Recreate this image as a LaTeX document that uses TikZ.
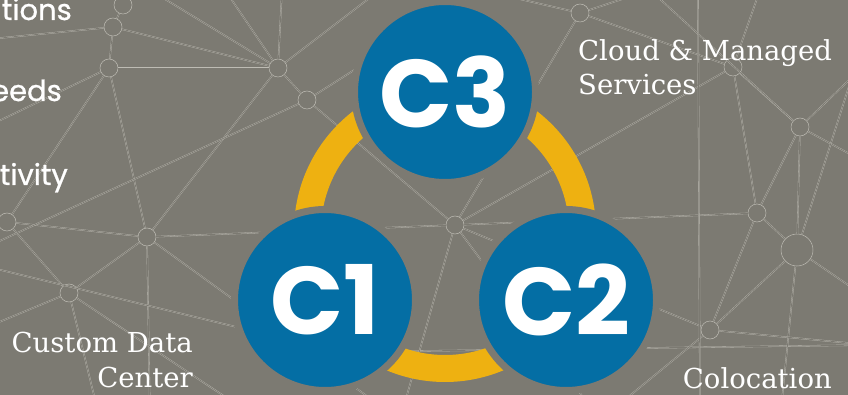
\documentclass[tikz,border=0pt]{standalone}
\usepackage{fontspec}
\newfontfamily\popfont{Poppins}
\newfontfamily\popmed{Poppins}[FakeBold=0.8]
\newfontfamily\slabfont{DejaVu Serif}
\definecolor{bgc}{RGB}{124,122,114}
\definecolor{netc}{RGB}{190,188,180}
\definecolor{bluec}{RGB}{4,110,164}
\definecolor{ringc}{RGB}{238,177,17}
\tikzset{
  net/.style={draw=netc, line width=0.3pt, double=bgc, double distance=0.8pt},
  hub/.style={circle, draw=netc, line width=0.5pt, fill=bgc, inner sep=0pt, minimum size=#1},
  hub/.default=18pt,
  cnode/.style={circle, fill=bluec, draw=bgc, line width=7pt, minimum size=181pt, inner sep=0pt,
    text=white, font=\popfont\bfseries\fontsize{96}{96}\selectfont},
  lefttxt/.style={inner sep=0pt, text=white, font=\popmed\fontsize{29}{32}\selectfont},
  slabtxt/.style={inner sep=0pt, text=white, font=\slabfont\fontsize{27.5}{34}\selectfont},
}
\begin{document}
\begin{tikzpicture}[x=1pt,y=-1pt]
\useasboundingbox (0,0) rectangle (848,395);
\clip (0,0) rectangle (848,395);
\fill[bgc] (0,0) rectangle (848,395);

% network hubs
\node[hub] (p1) at (113,27) {};
\node[hub] (p2) at (109,68) {};
\node[hub] (p3) at (278,68) {};
\node[hub] (p4) at (307,100) {};
\node[hub] (p5) at (147,237) {};
\node[hub] (p6) at (69,293) {};
\node[hub] (p7) at (7,222) {};
\node[hub] (p8) at (580,13) {};
\node[hub] (p9) at (733,67) {};
\node[hub] (p10) at (800,127) {};
\node[hub] (p11) at (757,213) {};
\node[hub=32pt] (p12) at (797,250) {};
\node[hub] (p13) at (710,330) {};
\node[hub] (p14) at (123,5) {};
\node[hub] (p15) at (455,225) {};
% free ends
\coordinate (o1) at (-20,130);
\coordinate (o2) at (-20,360);
\coordinate (o3) at (150,-10);
\coordinate (o4) at (380,-10);
\coordinate (o5) at (480,-10);
\coordinate (o6) at (870,20);
\coordinate (o7) at (870,165);
\coordinate (o8) at (870,300);
\coordinate (o9) at (870,420);
\coordinate (o10) at (600,420);
\coordinate (o11) at (400,420);
\coordinate (o12) at (100,420);
\coordinate (o13) at (282,-10);
\coordinate (o14) at (650,-10);
\coordinate (o15) at (225,-10);
\coordinate (o16) at (-20,40);
\coordinate (o17) at (-20,265);
\coordinate (o18) at (-20,250);
\coordinate (o19) at (698,-10);
\coordinate (o20) at (700,420);
\coordinate (o21) at (870,345);
\coordinate (o22) at (340,352);
\coordinate (o23) at (150,420);
\coordinate (o24) at (780,420);
\coordinate (o25) at (260,420);
\coordinate (o26) at (870,60);
\coordinate (o27) at (760,-10);
\coordinate (o28) at (-20,330);

\draw[net] (p14) -- (p1);
\draw[net] (p1) -- (p2);
\draw[net] (p1) -- (p3);
\draw[net] (p2) -- (p3);
\draw[net] (p2) -- (p5);
\draw[net] (p3) -- (p5);
\draw[net] (p3) -- (p4);
\draw[net] (p4) -- (p15);
\draw[net] (p3) -- (o4);
\draw[net] (p3) -- (o13);
\draw[net] (p3) -- (o15);
\draw[net] (p3) -- (o3);
\draw[net] (p2) -- (o1);
\draw[net] (p1) -- (o16);
\draw[net] (p2) -- (p7);
\draw[net] (p5) -- (p7);
\draw[net] (p5) -- (p6);
\draw[net] (p5) -- (p15);
\draw[net] (p5) -- (o23);
\draw[net] (p5) -- (o11);
\draw[net] (p6) -- (p7);
\draw[net] (p6) -- (o28);
\draw[net] (p6) -- (o12);
\draw[net] (p6) -- (o25);
\draw[net] (o17) -- (o22);
\draw[net] (o18) -- (p4);
\draw[net] (o22) -- (o21);
\draw[net] (p8) -- (p9);
\draw[net] (p8) -- (p15);
\draw[net] (p8) -- (o5);
\draw[net] (p8) -- (o14);
\draw[net] (p9) -- (p10);
\draw[net] (p9) -- (p11);
\draw[net] (p9) -- (p15);
\draw[net] (p9) -- (o27);
\draw[net] (p10) -- (p11);
\draw[net] (p10) -- (p12);
\draw[net] (p10) -- (o7);
\draw[net] (p10) -- (o26);
\draw[net] (p10) -- (o14);
\draw[net] (p11) -- (p12);
\draw[net] (p11) -- (p13);
\draw[net] (p11) -- (p15);
\draw[net] (p12) -- (p13);
\draw[net] (p12) -- (o8);
\draw[net] (p12) -- (o6);
\draw[net] (p12) -- (o24);
\draw[net] (p13) -- (o21);
\draw[net] (p13) -- (o10);
\draw[net] (p13) -- (p15);
\draw[net] (o19) -- (o20);
\draw[net] (p15) -- (o11);
\draw[net] (p15) -- (o10);
\draw[net] (p4) -- (o5);

% ring
\draw[ringc, line width=27pt] (445,231) circle[radius=137.5];

% main circles
\node[cnode] (c3) at (445,92) {C3};
\node[cnode] (c1) at (325,300) {C1};
\node[cnode] (c2) at (566,300) {C2};

% texts
\node[lefttxt, anchor=base east] (t1) at (72,20) {tions};
\node[lefttxt, anchor=base east] (t2) at (62,101) {eeds};
\node[lefttxt, anchor=base east] (t3) at (68,185) {tivity};
\node[slabtxt, anchor=base west] (r1) at (578,61) {Cloud \& Managed};
\node[slabtxt, anchor=base west] (r2) at (578,95) {Services};
\node[slabtxt, anchor=base east] (l1) at (193,352) {Custom Data};
\node[slabtxt, anchor=base east] (l2) at (193,387) {Center};
\node[slabtxt, anchor=base east] (b1) at (832,388) {Colocation};
\end{tikzpicture}
\end{document}
